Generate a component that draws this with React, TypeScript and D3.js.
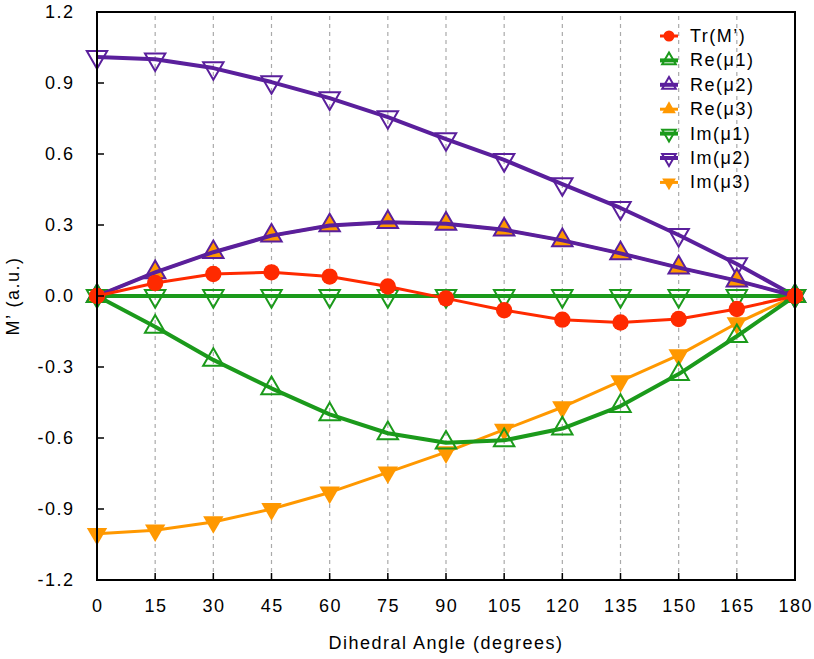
import * as d3 from 'd3';

const angles = [0, 15, 30, 45, 60, 75, 90, 105, 120, 135, 150, 165, 180];

const trM = [0, 0.055, 0.093, 0.1, 0.082, 0.04, -0.01, -0.06, -0.1, -0.112, -0.097, -0.055, 0];
const reMu1 = [0, -0.13, -0.27, -0.39, -0.5, -0.58, -0.62, -0.61, -0.56, -0.465, -0.33, -0.17, 0];
const reMu2 = [0, 0.1, 0.185, 0.255, 0.298, 0.312, 0.305, 0.28, 0.235, 0.18, 0.12, 0.065, 0];
const reMu3 = [0, 0.1, 0.185, 0.255, 0.298, 0.312, 0.305, 0.28, 0.235, 0.18, 0.12, 0.065, 0];
const imMu1 = [0, 0, 0, 0, 0, 0, 0, 0, 0, 0, 0, 0, 0];
const imMu2 = [1.01, 1.0, 0.963, 0.904, 0.836, 0.756, 0.663, 0.575, 0.473, 0.372, 0.258, 0.135, 0];
const imMu3 = [-1.005, -0.99, -0.955, -0.9, -0.83, -0.745, -0.66, -0.565, -0.47, -0.36, -0.25, -0.115, 0];

const xTicks = [0, 15, 30, 45, 60, 75, 90, 105, 120, 135, 150, 165, 180];
const yTicks = [-1.2, -0.9, -0.6, -0.3, 0, 0.3, 0.6, 0.9, 1.2];

type Marker = 'circle' | 'up' | 'down';

type Series = {
    label: string;
    values: number[];
    color: string;
    marker: Marker;
    filled: boolean;
    width: number;
};

const RED = '#ff2a00';
const GREEN = '#1b9a1b';
const PURPLE = '#5a1f9c';
const ORANGE = '#ff9800';

const series: Series[] = [
    { label: 'Tr(M’)', values: trM, color: RED, marker: 'circle', filled: true, width: 3 },
    { label: 'Re(μ1)', values: reMu1, color: GREEN, marker: 'up', filled: false, width: 4 },
    { label: 'Re(μ2)', values: reMu2, color: PURPLE, marker: 'up', filled: false, width: 4 },
    { label: 'Re(μ3)', values: reMu3, color: ORANGE, marker: 'up', filled: true, width: 3 },
    { label: 'Im(μ1)', values: imMu1, color: GREEN, marker: 'down', filled: false, width: 4 },
    { label: 'Im(μ2)', values: imMu2, color: PURPLE, marker: 'down', filled: false, width: 4 },
    { label: 'Im(μ3)', values: imMu3, color: ORANGE, marker: 'down', filled: true, width: 3 },
];

const W = 814;
const H = 659;
const margin = { left: 97, right: 19, top: 12, bottom: 79 };
const FONT = '"Liberation Sans", Arial, Helvetica, sans-serif';
const FS = 18;
const LS = 1.5;

function markerPath(kind: Marker, size: number) {
    if (kind === 'circle') return d3.symbol(d3.symbolCircle, size)() ?? '';
    return d3.symbol(d3.symbolTriangle, size)() ?? '';
}

function MarkerMark({ s, x, y, scale = 1 }: { s: Series; x: number; y: number; scale?: number }) {
    const size = (s.marker === 'circle' ? 210 : 180) * scale;
    const d = markerPath(s.marker, size);
    const rot = s.marker === 'down' ? 180 : 0;
    return (
        <path
            d={d}
            transform={`translate(${x},${y}) rotate(${rot})`}
            fill={s.filled ? s.color : 'none'}
            stroke={s.marker === 'circle' ? 'none' : s.color}
            strokeWidth={s.filled ? 0 : 2}
            strokeLinejoin="miter"
        />
    );
}

export default function App() {
    const x = d3
        .scaleLinear()
        .domain([0, 180])
        .range([margin.left, W - margin.right]);
    const y = d3
        .scaleLinear()
        .domain([-1.2, 1.2])
        .range([H - margin.bottom, margin.top]);

    const line = d3
        .line<number>()
        .x((_, i) => x(angles[i]))
        .y((d) => y(d));

    const [x0, x1] = x.range();
    const [y0, y1] = y.range();

    // draw last series first so Tr(M') ends on top
    const drawOrder = [...series].reverse();

    return (
        <div style={{ position: 'absolute', left: 0, top: 0 }}>
            <svg width={W} height={H} viewBox={`0 0 ${W} ${H}`} style={{ display: 'block', background: '#fff' }}>
                {/* vertical dashed grid */}
                {xTicks.map((t) => (
                    <line
                        key={`g${t}`}
                        x1={x(t)}
                        x2={x(t)}
                        y1={y0}
                        y2={y1}
                        stroke="#aaaaaa"
                        strokeWidth={1.2}
                        strokeDasharray="4,4"
                    />
                ))}

                {/* series */}
                {drawOrder.map((s) => (
                    <g key={s.label}>
                        <path
                            d={line(s.values) ?? ''}
                            fill="none"
                            stroke={s.color}
                            strokeWidth={s.width}
                            strokeLinejoin="round"
                        />
                        {s.values.map((v, i) => (
                            <MarkerMark key={i} s={s} x={x(angles[i])} y={y(v)} />
                        ))}
                    </g>
                ))}

                {/* frame */}
                <rect x={x0} y={y1} width={x1 - x0} height={y0 - y1} fill="none" stroke="#000" strokeWidth={2} />

                {/* ticks */}
                {yTicks.map((t) => (
                    <g key={`y${t}`}>
                        <line x1={x0} x2={x0 + 7} y1={y(t)} y2={y(t)} stroke="#000" strokeWidth={1.5} />
                        <text
                            x={74.5}
                            y={y(t)}
                            textAnchor="end"
                            dominantBaseline="central"
                            fontFamily={FONT}
                            fontSize={FS}
                            letterSpacing={LS}
                        >
                            {t.toFixed(1)}
                        </text>
                    </g>
                ))}
                {xTicks.map((t) => (
                    <g key={`x${t}`}>
                        <line x1={x(t)} x2={x(t)} y1={y0} y2={y0 - 7} stroke="#000" strokeWidth={1.5} />
                        <text
                            x={x(t) + LS / 2}
                            y={612}
                            textAnchor="middle"
                            fontFamily={FONT}
                            fontSize={FS}
                            letterSpacing={LS}
                        >
                            {t}
                        </text>
                    </g>
                ))}

                {/* axis titles */}
                <text
                    x={(x0 + x1) / 2}
                    y={649}
                    textAnchor="middle"
                    fontFamily={FONT}
                    fontSize={FS}
                    letterSpacing={LS}
                >
                    Dihedral Angle (degrees)
                </text>
                <text
                    transform={`translate(19,${(y0 + y1) / 2}) rotate(-90)`}
                    textAnchor="middle"
                    fontFamily={FONT}
                    fontSize={FS}
                    letterSpacing={LS}
                >
                    M’ (a.u.)
                </text>

                {/* legend */}
                {series.map((s, i) => {
                    const ly = 36 + i * 24.4;
                    return (
                        <g key={`l${s.label}`}>
                            <line x1={660} x2={678} y1={ly} y2={ly} stroke={s.color} strokeWidth={s.width} />
                            <MarkerMark s={s} x={669} y={ly} scale={0.45} />
                            <text
                                x={690}
                                y={ly}
                                dominantBaseline="central"
                                fontFamily={FONT}
                                fontSize={FS}
                                letterSpacing={LS}
                            >
                                {s.label}
                            </text>
                        </g>
                    );
                })}
            </svg>
        </div>
    );
}
